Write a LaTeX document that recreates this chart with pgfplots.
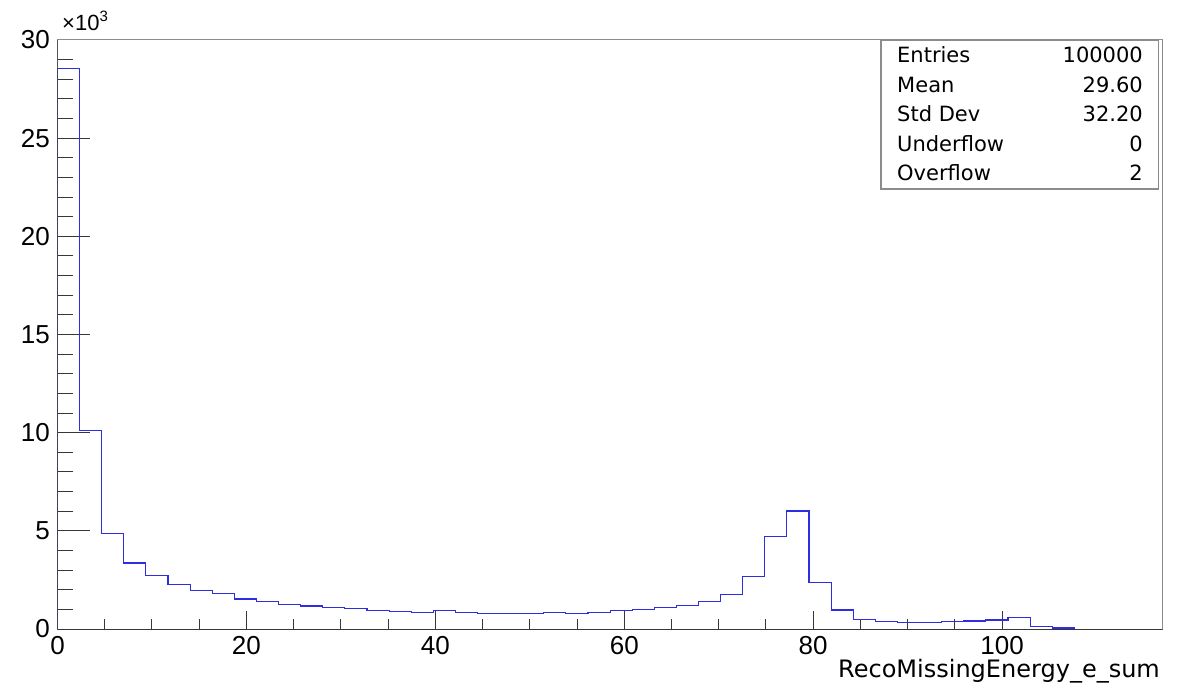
\documentclass[border=0pt]{standalone}
\usepackage{fontspec}
\setmainfont{Liberation Sans}
\newfontfamily\dejavu{DejaVu Sans}
\usepackage{pgfplots}
\pgfplotsset{compat=1.18}
\definecolor{histblue}{RGB}{45,45,225}
\definecolor{framegray}{RGB}{140,140,140}
\definecolor{axisdark}{RGB}{55,55,55}
\begin{document}
\begin{tikzpicture}
\useasboundingbox (-57.5pt,-57pt) rectangle (1130.5pt,629pt);
\begin{axis}[
  at={(0pt,0pt)}, anchor=south west,
  scale only axis, width=1105.2pt, height=589pt,
  xmin=0, xmax=117, ymin=0, ymax=30000,
  axis line style={framegray, line width=1pt},
  xtick={0,20,...,100}, minor x tick num=3,
  ytick={0,5000,...,30000}, yticklabels={0,5,10,15,20,25,30},
  minor y tick num=4,
  xtick pos=bottom, ytick pos=left, tick align=inside,
  major tick length=18pt, minor tick length=10pt,
  major y tick style={/pgfplots/major tick length=33pt},
  minor y tick style={/pgfplots/minor tick length=16pt},
  tick style={axisdark, line width=1pt},
  /pgf/number format/assume math mode=true,
  ticklabel style={font=\fontsize{26}{26}\selectfont, text=black},
  xticklabel style={inner sep=0pt, yshift=-7pt},
  yticklabel style={inner sep=0pt, xshift=-7.5pt},
  scaled y ticks=false,
]
\addplot[const plot, histblue, line width=1.1pt] coordinates {
(0,0) (0,28540) (2.34,10130) (4.68,4850) (7.02,3360) (9.36,2710)
(11.70,2270) (14.04,1970) (16.38,1830) (18.72,1530) (21.06,1390)
(23.40,1250) (25.74,1170) (28.08,1080) (30.42,1050) (32.76,950)
(35.10,900) (37.44,860) (39.78,920) (42.12,860) (44.46,780)
(46.80,810) (49.14,780) (51.48,830) (53.82,780) (56.16,830)
(58.50,920) (60.84,1000) (63.18,1080) (65.52,1220) (67.86,1390)
(70.20,1760) (72.54,2660) (74.88,4690) (77.22,6010) (79.56,2370)
(81.90,970) (84.24,490) (86.58,400) (88.92,340) (91.26,340)
(93.60,370) (95.94,410) (98.28,460) (100.62,590) (102.96,120)
(105.30,50) (107.64,0)
};
\draw[axisdark, line width=1pt] (rel axis cs:0,1) -- (rel axis cs:0,0) -- (rel axis cs:1,0);
\end{axis}
% stats box
\draw[framegray, line width=1.5pt, fill=white] (823.5pt,440pt) rectangle (1101pt,589pt);
\begin{scope}[every node/.style={inner sep=0pt, font=\dejavu\fontsize{21}{21}\selectfont}]
\node[anchor=base west] at (839.5pt,566.5pt) {Entries};
\node[anchor=base east] at (1085.5pt,566.5pt) {100000};
\node[anchor=base west] at (839.5pt,536.9pt) {Mean};
\node[anchor=base east] at (1085.5pt,536.9pt) {29.60};
\node[anchor=base west] at (839.5pt,507.3pt) {Std Dev};
\node[anchor=base east] at (1085.5pt,507.3pt) {32.20};
\node[anchor=base west] at (839.5pt,477.7pt) {Underflow};
\node[anchor=base east] at (1085.5pt,477.7pt) {0};
\node[anchor=base west] at (839.5pt,448.1pt) {Overflow};
\node[anchor=base east] at (1085.5pt,448.1pt) {2};
\end{scope}
% exponent label
\node[anchor=base west, inner sep=0pt, font=\fontsize{22}{22}\selectfont] at (4.5pt,598pt) {×10\raisebox{9pt}{\fontsize{15}{15}\selectfont 3}};
% axis title
\node[anchor=base east, inner sep=0pt, font=\dejavu\fontsize{24}{24}\selectfont] at (1102.5pt,-48pt) {RecoMissingEnergy\_e\_sum};
\end{tikzpicture}
\end{document}
